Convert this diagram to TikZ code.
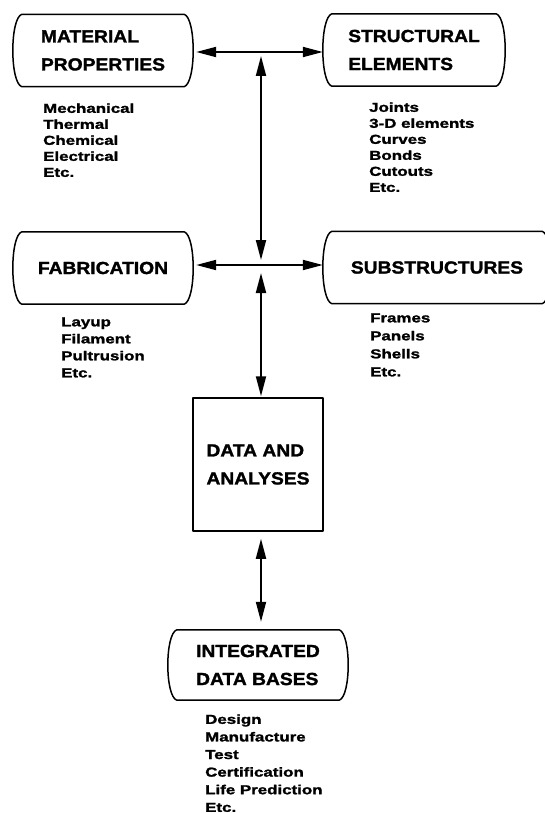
\documentclass[tikz,border=0pt]{standalone}
\usepackage{fontspec}
\usetikzlibrary{arrows.meta}

\newfontfamily\headfam[FakeStretch=1.1,FakeBold=1.6]{Liberation Sans}
\newfontfamily\listfam[FakeStretch=1.3,FakeBold=1.6]{Liberation Sans}
\newcommand{\headfont}{\headfam\bfseries\fontsize{17.5}{28}\selectfont}
\newcommand{\listfont}[1][16.5]{\listfam\bfseries\fontsize{13}{#1}\selectfont}

% capsule outline: flat top and bottom, sides bowed out
\newcommand{\bulgeframe}[1]{%
  \draw[frame] ([xshift=9pt]#1.north west) -- ([xshift=-9pt]#1.north east)
    .. controls ([xshift=3pt,yshift=-4pt]#1.north east) and ([xshift=3pt,yshift=4pt]#1.south east) .. ([xshift=-9pt]#1.south east)
    -- ([xshift=9pt]#1.south west)
    .. controls ([xshift=-3pt,yshift=4pt]#1.south west) and ([xshift=-3pt,yshift=-4pt]#1.north west) .. cycle;}

\tikzset{
  heading/.style={font=\headfont, align=left, inner sep=0pt},
  capsule/.style={heading, minimum width=180pt, minimum height=72pt},
  listing/.style={font=\listfont, align=left, inner sep=0pt, anchor=north west},
  frame/.style={line width=1.5pt, line join=round},
  link/.style={line width=1.9pt},
  oneway/.style={-{Triangle[length=20pt,width=10pt]}},
  twoway/.style={{Triangle[length=20pt,width=10pt]}-{Triangle[length=20pt,width=10pt]}}
}

\begin{document}
\begin{tikzpicture}[x=1pt,y=-1pt]
      \useasboundingbox (0,0) rectangle (544,813);
      % boxes
      \node[capsule] (matprop) at (103,50.5) {MATERIAL\\PROPERTIES};
      \node[capsule, minimum width=182pt] (strel) at (414,50) {STRUCTURAL\\ELEMENTS};
      \node[capsule] (fab) at (103,268) {FABRICATION};
      \node[capsule, minimum width=228pt] (substr) at (437,267.5) {SUBSTRUCTURES};
      \node[heading, draw, frame, minimum width=130pt, minimum height=133pt] (data) at (258,464.5) {DATA AND\\ANALYSES};
      \node[capsule, minimum height=70pt] (intdb) at (258,665) {INTEGRATED\\DATA BASES};
      \bulgeframe{matprop}
      \bulgeframe{strel}
      \bulgeframe{fab}
      \bulgeframe{substr}
      \bulgeframe{intdb}
      % lists
      \node[listing, font={\listfont[16]}] (matlist) at (43,103.2) {Mechanical\\Thermal\\Chemical\\Electrical\\Etc.};
      \node[listing, font={\listfont[16]}] (strlist) at (369,102.2) {Joints\\3-D elements\\Curves\\Bonds\\Cutouts\\Etc.};
      \node[listing, font={\listfont[17]}] (fablist) at (61,317.2) {Layup\\Filament\\Pultrusion\\Etc.};
      \node[listing, font={\listfont[18]}] (sublist) at (370,313.2) {Frames\\Panels\\Shells\\Etc.};
      \node[listing, font={\listfont[17.6]}] (intlist) at (205,714.2) {Design\\Manufacture\\Test\\Certification\\Life Prediction\\Etc.};
      % connectors
      \coordinate (topjoin) at (261,52);
      \coordinate (midjoin) at (261,265);
      \draw[link,oneway,shorten >=3pt] (topjoin) -- (topjoin -| matprop.east);
      \draw[link,oneway] (topjoin) -- (topjoin -| strel.west);
      \draw[link,oneway,shorten >=3pt] (midjoin) -- (midjoin -| fab.east);
      \draw[link,oneway] (midjoin) -- (midjoin -| substr.west);
      \draw[link,twoway,shorten <=4pt,shorten >=5pt] (topjoin) -- (midjoin);
      \draw[link,twoway,shorten <=8pt,shorten >=1pt] (midjoin) -- (midjoin |- data.north);
      \draw[link,twoway,shorten <=7pt,shorten >=8pt] (data.south -| midjoin) -- (midjoin |- intdb.north);
\end{tikzpicture}
\end{document}
